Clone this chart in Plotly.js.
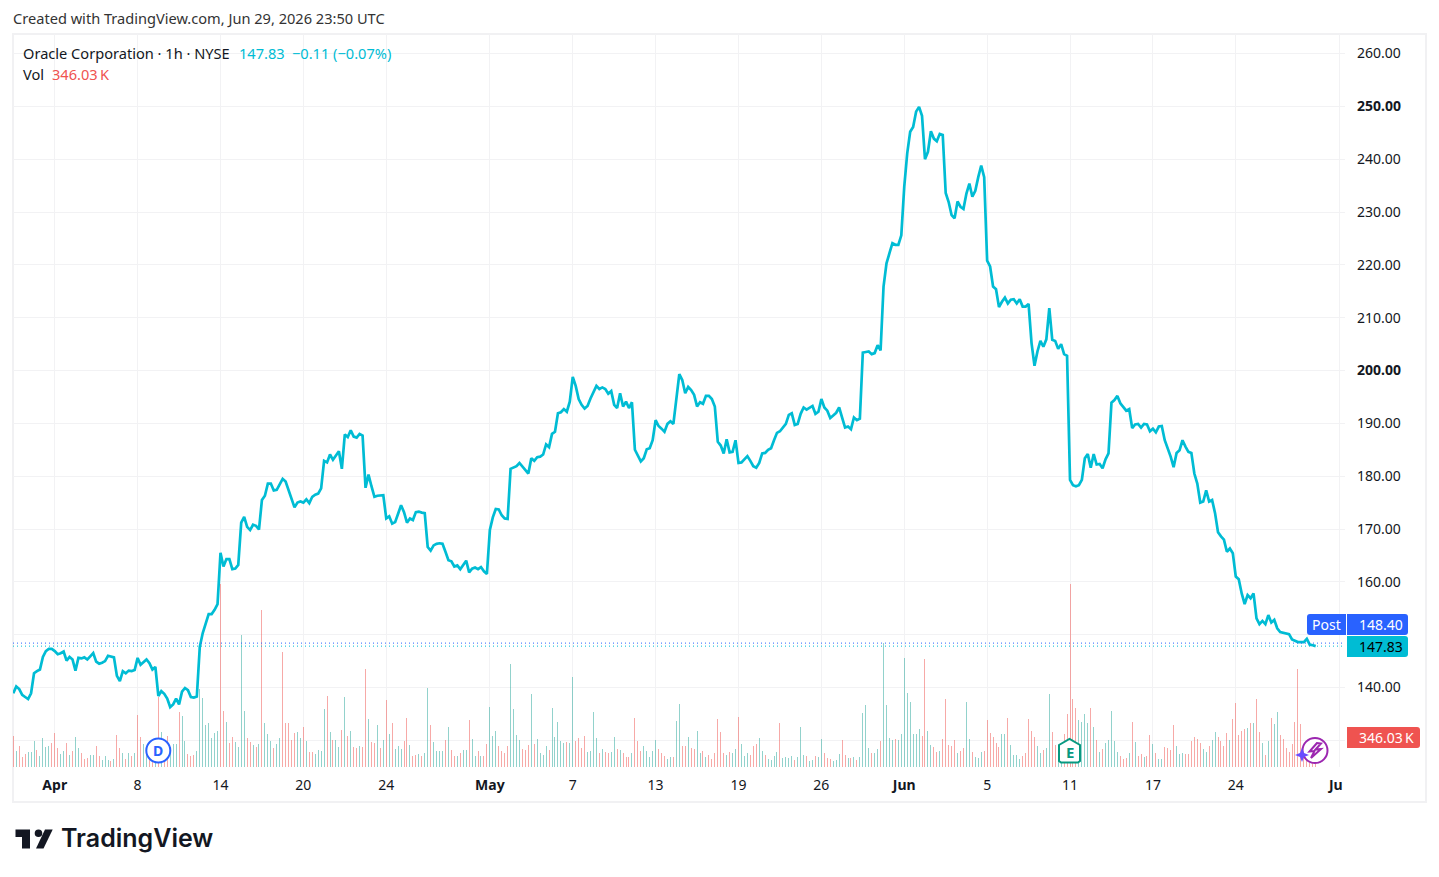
<!DOCTYPE html>
<html>
<head>
<meta charset="utf-8">
<title>ORCL 1h</title>
<script src="https://cdn.plot.ly/plotly-3.0.1.min.js"></script>
<style>
  html, body { margin: 0; padding: 0; background: #fff; }
  #chart { width: 1439px; height: 877px; }
</style>
</head>
<body>
<div id="chart"></div>
<script>
// hourly closes, one per bar (rows of 10)
const closes = [
  138.9,140.2,139.7,138.6,138.2,137.8,138.9,142.7,143.1,143.4,
  145.8,146.9,147.3,147.3,146.9,146.3,146.5,146.8,145.1,145.8,
  145.3,143.2,145.6,145.5,145.7,145.3,145.9,146.5,144.9,144.5,
  144.7,145,146,145.9,145.7,142.2,141.2,143.1,142.7,143.2,
  143.1,143.3,145.6,144.3,144.8,145.3,144.6,143.4,143.9,138.4,
  139.3,138.8,137.9,136.3,136.8,137.9,136.8,139.2,139.9,139.5,
  138.2,138.1,138.3,147.7,150.3,152,153.9,153.9,154.7,155.8,
  165.5,162.9,164.3,164.3,162.4,162.5,163.2,171.2,172.3,170.4,
  169.8,170.8,170.6,169.9,175.5,176.3,178.6,178.6,177.3,177.4,
  178.5,179.5,179,177.4,175.8,174.1,175,175.2,175,175.6,
  174.9,176.1,176.5,176.7,177.7,182.9,182.6,184.1,183.1,183.9,
  184.7,181.4,187.9,187.4,188.7,187.5,187.3,188,187.7,177.8,
  180.3,178.1,176.1,176.3,176.3,176.4,172,172.4,171,171.3,
  172.9,174.5,173.2,171.2,172,171.7,173.2,173.3,173.1,173,
  166.6,165.9,166.9,167.2,167.3,167.2,165.7,164.1,163.9,162.9,
  163.1,162.4,163.2,164,161.8,162.5,162.7,162.4,162.8,162,
  161.5,169.8,172.2,173.8,173.7,172.6,172,171.9,181.4,181.7,
  181.9,182.5,181.9,181.2,180.5,183.4,182.9,183.6,183.7,184.1,
  186,185.5,188,188.4,191.9,192.1,192.7,192.2,194.1,198.8,
  197.1,194.6,193.5,192.8,193.3,194.7,195.9,197.1,196.5,196.8,
  196.5,195.6,196.1,193.5,192.9,195.7,193.2,194.1,192.9,194,
  185,183.9,182.8,183.4,185.1,185.3,186.8,190.6,189.5,189,
  188.4,189.9,190.4,189.9,195,199.3,198.2,195.7,196.9,196.3,
  195.4,193.2,194,193.7,195.2,195.2,194.6,193.2,186.5,185.8,
  184.3,187,184.5,184.6,186.8,182.5,182.6,183.2,183.8,182.9,
  181.9,181.6,182.5,184.3,184.4,185,185.3,186.8,188.2,188.5,
  189.2,189.9,191.6,191.9,189.7,189.9,191.8,193,192.6,193,
  193.3,191.8,192.2,194.6,193,192.4,191,191.5,192,193,
  191.1,189.2,189.4,188.9,191.1,190.6,190.9,203.4,203.5,203.6,
  203.1,203.3,204.8,203.8,215.9,220.3,222.2,224.1,223.8,223.8,
  225.6,234.8,241.1,245.2,246.1,249,249.9,248.2,240,241.4,
  245.3,243.9,243.4,244.8,244.6,233.6,231.9,229.4,228.8,232,
  231,230.6,233.5,235.4,232.9,234,236.6,238.8,236.6,220.8,
  219.7,215.9,215.4,212,213,213.8,212.7,213.4,213.5,212.7,
  213.5,212.1,212.1,212.6,205.2,200.9,203.6,205.6,204.5,205.9,
  211.8,205.8,205.6,204.1,205,203.1,202.8,179.3,178.3,178.1,
  178.3,179.3,183.4,184.2,181.6,184.2,182.2,182.3,181.5,183.2,
  184.3,193.9,194.4,195.2,193.8,193.2,192.4,192.7,189.1,189.8,
  189.9,189.2,189.9,189.8,188.5,189,188.3,189.4,189.5,186.8,
  185.3,183.7,181.7,184.4,184.9,186.8,185.6,184.6,184.4,180.5,
  178.6,175,175.2,177.3,175.2,175.5,173,169.4,168.6,168,
  165.7,166.3,165.4,161,160.5,157.8,155.8,157.5,156.9,157.8,
  153.1,152,152.6,152,153.7,152.3,152.8,151.2,150.5,150.4,
  150.3,150.1,149.1,148.9,148.6,148.6,148.6,149.2,148.1,148,147.83
];

// volume per bar in millions of shares
const volumes = [
  3.1,1.6,2.1,1,1.3,1.5,1.5,2.6,1.7,1.1,
  2.9,2,2.1,2.4,3.4,1.9,1.3,1.6,2.4,1.2,
  1.6,3,1.9,1.4,.8,.9,1.2,1.2,2.1,1.1,
  .7,1.1,.7,.6,.8,3.2,1.9,1.4,.8,1.4,
  1.1,1.4,5.2,3,2.3,1.9,1.2,1,1.6,7,
  3.5,1.3,3.1,2,2.3,2.3,5.5,5.1,2.6,1.3,
  1.1,1.2,1.6,7.8,6.9,4.2,4.4,2.9,3.4,3.6,
  18.3,5.6,4.5,2.4,3,2.5,2,13.2,5.6,2.9,
  2.5,2.2,2,2.3,15.7,4.4,3.3,2.6,1.9,2.3,
  2.9,11.5,4.4,4.4,2.7,3.4,3.5,2.9,4,2.6,
  1.5,1.5,1.3,1.7,1.6,5.8,7.1,3.5,2.7,2.7,
  2,3.7,7,3.1,3.6,2,1.9,2.1,2,9.8,
  4.8,2.5,2.4,4.2,1.9,2.7,6.7,3.3,4.4,1.8,
  2.1,1.8,2.6,4.9,2.2,1.1,1.2,1.3,1.1,1.4,
  7.9,4.2,2.5,1.6,1.6,1.6,2.7,4,1.7,1.1,
  1.1,1.4,1.7,1.7,4.7,2.8,1.1,1.6,1.1,1.1,
  2.3,6,3.1,3.6,2.1,1.6,1.4,2.1,10.3,5.8,
  3.2,2.7,1.8,1.7,2.2,7.3,2.3,2.8,1.4,1.2,
  2.1,1.7,5.9,3,4.5,2.6,2.4,2.5,2.4,9,
  2.6,2.9,1.9,3.1,1.5,1.6,5.5,2.9,1.4,1.8,
  1.5,1.4,1.5,3,1.8,1.7,1.4,1,1,1.4,
  4.9,2.6,1.6,2.1,1.6,1,1.6,2.7,1.8,1.4,
  1.1,.8,1,1,4.6,6.3,2.1,2.1,3,1.9,
  1.8,3.6,1.4,1.6,1,1.2,.8,1.4,4.8,3.5,
  1.4,1.2,1.5,1.4,1.8,5,2.3,1.1,1.4,1.2,
  2.1,2.3,2.9,1.6,1.2,.8,.7,1.1,1.5,4.4,
  .9,1,.9,1.1,.7,1,4,1.2,1.1,.6,
  .7,1.1,1,2.8,1.4,.9,.8,.6,.7,1.3,
  2.7,1.2,.9,.9,1,.7,1,5.4,6.2,1.9,
  1.4,1.4,1.8,2.6,12.4,6.2,2.9,2.7,2.8,2.7,
  3.3,10.9,7.4,6.5,3.3,3.3,3.8,3.1,10.8,3.6,
  2.2,2,1.5,1.6,2.8,6.8,2.2,2.1,2.7,1.4,
  1.6,1.9,6.5,2.8,1.5,1,.9,1.5,1.6,4.7,
  3.4,3,2.4,2,3.3,3.3,4.9,2.2,1.2,1.2,
  .8,1.1,1.4,4.8,3.6,3,2.1,1.4,1.7,1.9,
  7.3,3.5,2.2,2,1.7,3.3,5.3,18.3,6.8,5.9,
  4.7,4.5,5.3,4.4,5.9,4,2.7,1.5,1.8,2.4,
  2.7,5.6,2.6,1.5,1.1,.8,.9,1.4,4.5,2.5,
  1.1,1.3,1,1.1,3.2,2.3,1.4,.8,.8,2,
  1.9,1.7,4.2,2.1,1.3,1.4,1.3,1.3,2.6,3,
  2.8,2.4,1.8,1.5,2.1,2.7,3.5,3,2.6,2.1,
  3.4,2.7,4.8,6.4,3.2,3.6,3.8,3.9,4.4,4.4,
  6.8,3.5,2.4,1.2,2.6,4.9,4.3,5.5,3.2,2.8,
  1.9,1.5,2.3,4.5,9.8,4.3,1,.7,.4,.4,.346
];

// r = down bar, g = up bar
const volumeDirs = (
  'rgrrrgggrg' + 'gggrrrggrg' + 'rggrrrggrr' + 'gggrgrrgrg' + 'rgrrggrrgr' +
  'grrgggrggr' + 'rrgggggggg' + 'rrgrrggggr' + 'rgrgrgggrg' + 'grrrrrggrg' +
  'rrggggrgrg' + 'grgrgrrgrr' + 'grrgrgrgrg' + 'ggrrgrrgrg' + 'grggggrgrr' +
  'grggrggrgr' + 'rgggrrrrgg' + 'ggrrrgrggg' + 'grgggggrgg' + 'rrrrggggrg' +
  'rrggrgrrrg' + 'rrrgggggrr' + 'rggrggrrgr' + 'rggrgrrrrr' + 'rgrggrgggr' +
  'rrggrggggr' + 'ggggrgggrg' + 'grggrrrggg' + 'rrgrgrgggg' + 'rggrggggrg' +
  'gggggggrrg' + 'grrgrrrrrg' + 'rrggrgggrr' + 'rrrrggrggg' + 'grrrrrggrg' +
  'grrggrrrrr' + 'ggggrgrgrg' + 'ggggrrrgrg' + 'rrgrrgrggr' + 'rrrgggrrrr' +
  'rrggrggrrr' + 'rgrrrrrgrg' + 'rrgrgrggrr' + 'rrrrrrrrrrr'
).split('');

const bars = closes.map((_, i) => i);

// 130 and 150 keep their grid lines, their labels sit behind the badges
const priceTicks = [130,140,150,160,170,180,190,200,210,220,230,240,250,260];
const priceLabels = ['','140.00','','160.00','170.00','180.00','190.00',
  '<b>200.00</b>','210.00','220.00','230.00','240.00','<b>250.00</b>','260.00'];

const timeTicks = [14,42,70,98,126,161,189,217,245,273,301,329,357,385,413,448];
const timeLabels = ['<b>Apr</b>','8','14','20','24','<b>May</b>','7','13','19','26',
  '<b>Jun</b>','5','11','17','24','<b>Ju</b>\u00a0\u00a0'];

const postPrice = 148.40;
const lastPrice = 147.83;

const CYAN = '#00bcd4', BLUE = '#2962ff', RED = '#ef5350', TEAL = '#089981', INK = '#131722';
const FONT = 'Noto Sans, sans-serif';

// page pixels -> paper fractions, the plot sits at x 13..1345, y 34..767
const px = (x) => (x - 13) / 1332;
const py = (y) => (767 - y) / 733;
const pt = (x, y) => px(x) + ',' + py(y);

function poly(points, color, stroke) {
  return {
    type: 'path', xref: 'paper', yref: 'paper', layer: 'above',
    path: 'M' + points.map((p) => pt(p[0], p[1])).join('L') + 'Z',
    fillcolor: color,
    line: stroke ? { color: stroke, width: 2 } : { width: 0 }
  };
}

function roundBox(x0, y0, x1, y1, rl, rr, color) {
  const path = 'M' + pt(x0 + rl, y0) + 'L' + pt(x1 - rr, y0) +
    'Q' + pt(x1, y0) + ' ' + pt(x1, y0 + rr) + 'L' + pt(x1, y1 - rr) +
    'Q' + pt(x1, y1) + ' ' + pt(x1 - rr, y1) + 'L' + pt(x0 + rl, y1) +
    'Q' + pt(x0, y1) + ' ' + pt(x0, y1 - rl) + 'L' + pt(x0, y0 + rl) +
    'Q' + pt(x0, y0) + ' ' + pt(x0 + rl, y0) + 'Z';
  return { type: 'path', xref: 'paper', yref: 'paper', layer: 'above', path: path,
    fillcolor: color, line: { width: 0 } };
}

function circle(cx, cy, r, fill, stroke, width) {
  return { type: 'circle', xref: 'paper', yref: 'paper', layer: 'above',
    x0: px(cx - r), x1: px(cx + r), y0: py(cy + r), y1: py(cy - r),
    fillcolor: fill, line: { color: stroke, width: width } };
}

function label(x, y, text, color, size, anchor, extra) {
  return Object.assign({
    xref: 'paper', yref: 'paper', x: px(x), y: py(y), text: text, showarrow: false,
    xanchor: anchor || 'left', yanchor: 'middle', borderpad: 0,
    font: { family: FONT, size: size || 14, color: color || INK }
  }, extra || {});
}

const data = [
  {
    // half transparent colours make plotly snap the thin bars to whole pixels
    type: 'bar', x: bars, y: volumes, width: 0.338, yaxis: 'y', hoverinfo: 'skip',
    marker: {
      color: volumeDirs.map((d) => (d === 'r' ? 'rgba(239,83,80,0.5)' : 'rgba(38,166,154,0.5)')),
      line: { width: 0 }
    }
  },
  {
    type: 'scatter', mode: 'lines', x: bars, y: closes, yaxis: 'y2', hoverinfo: 'skip',
    line: { color: CYAN, width: 2.7, shape: 'linear' }
  }
];

const shapes = [
  // pane frame
  { type: 'rect', xref: 'paper', yref: 'paper', layer: 'below', x0: px(13), x1: px(1426), y0: py(802), y1: py(34),
    line: { color: '#f1f1f3', width: 2 } },
  { type: 'line', xref: 'x', yref: 'y2', x0: -0.1, x1: 449.9, y0: postPrice, y1: postPrice,
    line: { color: BLUE, width: 1, dash: '1px,3px' } },
  { type: 'line', xref: 'x', yref: 'y2', x0: -0.1, x1: 449.9, y0: lastPrice, y1: lastPrice,
    line: { color: CYAN, width: 1, dash: '1px,3px' } },
  // price and volume badges
  roundBox(1307, 614, 1346, 635, 3, 0, BLUE),
  roundBox(1347, 614, 1408, 635, 0, 3, BLUE),
  roundBox(1347, 636, 1408, 657, 0, 3, CYAN),
  roundBox(1347, 727, 1420, 748, 0, 3, RED),
  // dividend and earnings flags
  circle(158.3, 750.5, 12, '#ffffff', BLUE, 2),
  poly([[1059, 745], [1069.5, 739], [1080, 745], [1080, 761], [1078, 762.5], [1061, 762.5], [1059, 761]], '#ffffff', TEAL),
  // lightning badge with the star next to it
  circle(1315, 750.5, 12.5, '#ffffff', '#9c27b0', 2),
  poly([[1317, 743], [1309.5, 751.5], [1314.5, 751], [1311, 758], [1321, 749], [1315.5, 749.5], [1321, 743.5]], '#ffffff', '#9c27b0'),
  poly([[1302, 748], [1304, 753], [1309, 755], [1304, 757], [1302, 762], [1300, 757], [1295, 755], [1300, 753]], '#6a4cff'),
  // TradingView mark
  poly([[15.5, 829.5], [30, 829.5], [30, 848.5], [22, 848.5], [22, 837], [15.5, 837]], '#131722'),
  circle(38.5, 833.3, 3.8, '#131722', '#131722', 0),
  poly([[45, 829.5], [52.7, 829.5], [43.5, 848.5], [36, 848.5]], '#131722')
];

const annotations = [
  label(12, 18, 'Created with TradingView.com, Jun 29, 2026 23:50 UTC', '#333333', 14.6),
  label(22, 53, 'Oracle Corporation \u00b7 1h \u00b7 NYSE', INK, 14.6),
  label(238, 53, '147.83', CYAN, 14.6),
  label(291, 53, '\u22120.11 (\u22120.07%)', CYAN, 14.6),
  label(22, 74, 'Vol', INK, 14.6),
  label(51, 74, '346.03\u202fK', RED, 14.6),
  label(1326, 624, 'Post', '#ffffff', 14, 'center'),
  label(1381, 624, '148.40', '#ffffff', 14, 'center'),
  label(1381, 646, '147.83', '#000000', 14, 'center'),
  label(1386, 737, '346.03\u202fK', '#ffffff', 14, 'center'),
  label(158.3, 750.5, '<b>D</b>', BLUE, 14, 'center'),
  label(1069.5, 751.5, '<b>E</b>', TEAL, 15, 'center'),
  label(60, 838, 'TradingView', '#131722', 25, 'left', {
    font: { family: 'Inter, sans-serif', size: 25, color: '#131722', weight: 600 }
  })
];

const layout = {
  width: 1439,
  height: 877,
  margin: { l: 13, r: 94, t: 34, b: 110, pad: 0 },
  paper_bgcolor: '#ffffff',
  plot_bgcolor: '#ffffff',
  showlegend: false,
  bargap: 0,
  font: { family: FONT, size: 14, color: INK },
  xaxis: {
    range: [-0.1, 449.9],
    tickmode: 'array', tickvals: timeTicks, ticktext: timeLabels,
    showgrid: true, gridcolor: '#f2f2f4', gridwidth: 1,
    zeroline: false, showline: false, ticks: '', ticklabelstandoff: 8,
    tickfont: { family: FONT, size: 14, color: INK }, tickangle: 0
  },
  yaxis: { range: [0, 73.3], visible: false, showgrid: false, zeroline: false, fixedrange: true },
  yaxis2: {
    overlaying: 'y', side: 'right', range: [124.95, 263.7],
    tickmode: 'array', tickvals: priceTicks, ticktext: priceLabels,
    showgrid: true, gridcolor: '#f2f2f4', gridwidth: 1,
    zeroline: false, showline: false, ticks: '', ticklabelstandoff: 11,
    tickfont: { family: FONT, size: 14, color: INK }
  },
  shapes: shapes,
  annotations: annotations
};

Plotly.newPlot('chart', data, layout, { displayModeBar: false, responsive: false });
</script>
</body>
</html>
